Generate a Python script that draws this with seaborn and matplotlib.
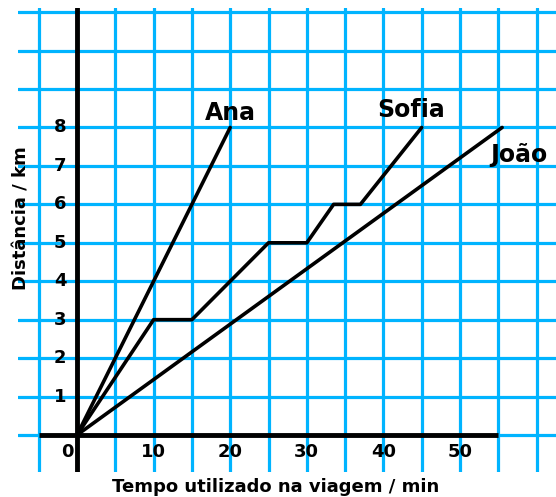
import matplotlib
matplotlib.use("Agg")
import matplotlib.pyplot as plt
import seaborn as sns
import numpy as np
import pandas as pd

# ---- data ----
ana_t = [0, 20]
ana_d = [0, 8]
sofia_t = [0, 10, 15, 25, 30, 33.5, 37, 45]
sofia_d = [0, 3, 3, 5, 5, 6, 6, 8]
joao_t = [0, 55.5]
joao_d = [0, 8]
names = ["Ana", "Sofia", "João"]
x_tick_vals = [0, 10, 20, 30, 40, 50]
y_tick_vals = [1, 2, 3, 4, 5, 6, 7, 8]
x_label = "Tempo utilizado na viagem / min"
y_label = "Distância / km"

sns.set_style("white")
plt.rcParams['font.family'] = ['DejaVu Sans']
plt.rcParams['text.color'] = 'black'

W, H = 556, 497
fig = plt.figure(figsize=(W / 100, H / 100), dpi=100)
left_px, right_px, top_px, bot_px = 18, 556, 8, 472
ax = fig.add_axes([left_px / W, 1 - bot_px / H, (right_px - left_px) / W, (bot_px - top_px) / H])

# pixel mapping: px = 77 + 7.66*t ; py = 435 - 38.44*d
sx, x0 = 7.66, 77
sy, y0 = 38.44, 435
ax.set_xlim((left_px - x0) / sx, (right_px - x0) / sx)
ax.set_ylim((y0 - bot_px) / sy, (y0 - top_px) / sy)

grid_c = "#00B4FF"
ax.set_xticks(np.arange(-5, 65, 5))
ax.set_yticks(np.arange(0, 12, 1))
ax.grid(True, color=grid_c, lw=2.3, zorder=0)
ax.set_axisbelow(True)
ax.tick_params(left=False, bottom=False, labelleft=False, labelbottom=False)
for s in ax.spines.values():
    s.set_visible(False)

# axes lines
ax.axvline(0, color="black", lw=3.5, zorder=3)
ax.plot([-5, 55], [0, 0], color="black", lw=3.5, zorder=3, solid_capstyle="butt")

df = pd.concat([
    pd.DataFrame({"t": ana_t, "d": ana_d, "who": names[0]}),
    pd.DataFrame({"t": sofia_t, "d": sofia_d, "who": names[1]}),
    pd.DataFrame({"t": joao_t, "d": joao_d, "who": names[2]}),
])
for who, g in df.groupby("who", sort=False):
    sns.lineplot(data=g, x="t", y="d", color="black", lw=2.6, sort=False,
                 estimator=None, ax=ax, zorder=4)
ax.set_xlabel("")
ax.set_ylabel("")

fs = 13
for v in x_tick_vals:
    xx = v - 1.3 if v == 0 else v
    ax.text(xx, -0.45, str(v), ha="center", va="center", fontsize=fs,
            fontweight="bold", color="black", zorder=5)
for v in y_tick_vals:
    ax.text(-2.2, v, str(v), ha="center", va="center", fontsize=fs,
            fontweight="bold", color="black", zorder=5)

nfs = 17
ax.text(20, 8.38, names[0], ha="center", va="center", fontsize=nfs, fontweight="bold",
        color="black", zorder=5)
ax.text(43.6, 8.45, names[1], ha="center", va="center", fontsize=nfs, fontweight="bold",
        color="black", zorder=5)
ax.text(54.0, 7.28, names[2], ha="left", va="center", fontsize=nfs, fontweight="bold",
        color="black", zorder=5, clip_on=False)

fig.text(276 / W, 1 - 487 / H, x_label, ha="center", va="center", fontsize=13,
         fontweight="bold", color="black")
fig.text(22 / W, 1 - 218 / H, y_label, ha="center", va="center", fontsize=13,
         fontweight="bold", rotation=90, color="black")

fig.savefig("out.png", dpi=100, facecolor="white")
